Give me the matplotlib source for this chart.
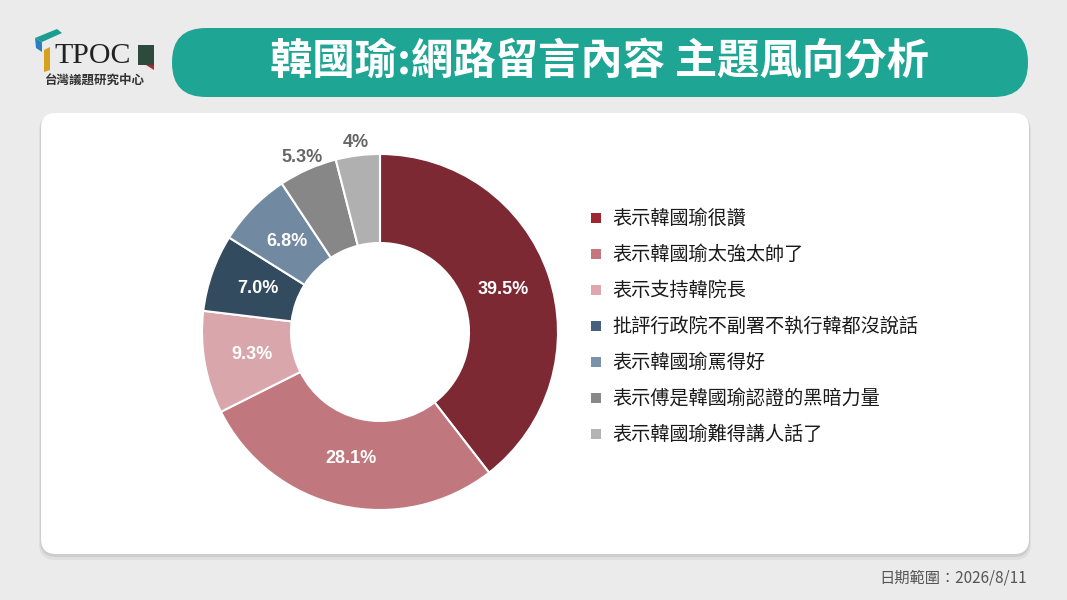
import numpy as np
import matplotlib.pyplot as plt
from matplotlib.patches import FancyBboxPatch, Rectangle, Polygon

plt.rcParams['font.family'] = ['Noto Sans CJK TC', 'DejaVu Sans']

# Data
categories = [
    '表示韓國瑜很讚',
    '表示韓國瑜太強太帥了',
    '表示支持韓院長',
    '批評行政院不副署不執行韓都沒說話',
    '表示韓國瑜罵得好',
    '表示傅是韓國瑜認證的黑暗力量',
    '表示韓國瑜難得講人話了',
]
values = [39.5, 28.1, 9.3, 7.0, 6.8, 5.3, 4]
pct_labels = ['39.5%', '28.1%', '9.3%', '7.0%', '6.8%', '5.3%', '4%']

wedge_colors = ['#7c2934', '#c0777d', '#d8a6ab', '#334b5f', '#7189a1', '#878787', '#b0b0b0']
legend_colors = ['#a0252f', '#c6777d', '#dda9ae', '#46617e', '#7991ab', '#898989', '#b3b3b3']

title = '韓國瑜:網路留言內容 主題風向分析'
footer = '日期範圍：2026/8/11'

W, H = 1067, 600
fig = plt.figure(figsize=(W / 100, H / 100), dpi=100)
fig.patch.set_facecolor('#ebebeb')

# background layer in pixel coords
bg = fig.add_axes([0, 0, 1, 1])
bg.set_xlim(0, W)
bg.set_ylim(H, 0)
bg.axis('off')

# card with soft shadow
for off, a in [(4, 0.05), (2, 0.08)]:
    bg.add_patch(FancyBboxPatch((41 - off / 2, 113 + off / 2), 988 + off, 441 + off,
                                boxstyle='round,pad=0,rounding_size=16',
                                fc='#000000', ec='none', alpha=a))
bg.add_patch(FancyBboxPatch((41, 113), 988, 441, boxstyle='round,pad=0,rounding_size=15',
                            fc='white', ec='none'))

# title pill
bg.add_patch(FancyBboxPatch((172, 28), 856, 69, boxstyle='round,pad=0,rounding_size=34',
                            fc='#1fa594', ec='none'))
bg.text(600, 62, title, ha='center', va='center', fontsize=30.5, fontweight='bold', color='white')

# logo
bg.add_patch(Polygon([(35, 38), (57, 29), (62, 33), (42, 42)], closed=True, fc='#1a9e8f', ec='none'))
bg.add_patch(Polygon([(35, 38), (42, 42), (42, 52), (36, 48)], closed=True, fc='#2a7fc1', ec='none'))
bg.add_patch(Polygon([(44, 50), (50, 47), (50, 70), (44, 72)], closed=True, fc='#d6a21e', ec='none'))
bg.text(54, 56, 'TPOC', ha='left', va='center', fontsize=21.5, family='Liberation Serif', color='#222222')
bg.add_patch(Rectangle((138, 45), 16, 20, fc='#2e4a3c', ec='none'))
bg.add_patch(Polygon([(146, 65), (154, 65), (154, 70)], closed=True, fc='#b3262e', ec='none'))
bg.text(95, 80, '台灣議題研究中心', ha='center', va='center', fontsize=9, fontweight='bold', color='#333333')

# footer
bg.text(1027, 578, footer, ha='right', va='center', fontsize=11, color='#555555')

# donut
cx, cy, R = 380, 332, 178
ax = fig.add_axes([(cx - 180) / W, (H - cy - 180) / H, 360 / W, 360 / H])
wedges, _ = ax.pie(values, radius=R, colors=wedge_colors, startangle=90, counterclock=False,
                   wedgeprops=dict(width=R * 0.5, edgecolor='white', linewidth=1.5))
ax.set_xlim(-180, 180)
ax.set_ylim(-180, 180)
ax.axis('off')

for w, v, lab in zip(wedges, values, pct_labels):
    mid = np.deg2rad((w.theta1 + w.theta2) / 2)
    if v < 6:
        r, col = R * 1.075, '#666666'
    else:
        r, col = R * 0.73, 'white'
    ax.text(r * np.cos(mid), r * np.sin(mid), lab, ha='center', va='center',
            fontsize=13, fontweight='bold', family='Liberation Sans', color=col)

# legend
for i, (name, c) in enumerate(zip(categories, legend_colors)):
    y = 218 + i * 36
    bg.add_patch(Rectangle((591, y - 5), 10, 10, fc=c, ec='none'))
    bg.text(612, y, name, ha='left', va='center', fontsize=13.8, color='#1a1a1a')

fig.savefig('out.png', dpi=100, facecolor=fig.get_facecolor())
